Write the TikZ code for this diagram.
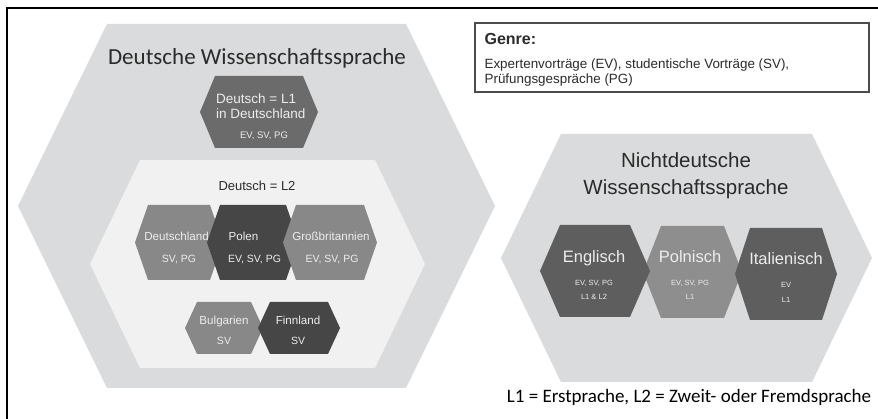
\documentclass[tikz,border=0pt]{standalone}
\usepackage{fontspec}
\setmainfont{Liberation Sans}
\newfontfamily\calib{Carlito}
\definecolor{bigfill}{HTML}{DADBDC}
\definecolor{innerfill}{HTML}{F1F1F1}
\definecolor{hexmid}{HTML}{6B6B6B}
\definecolor{hexlight}{HTML}{888888}
\definecolor{hexdark}{HTML}{464646}
\definecolor{hexeng}{HTML}{5E5E5E}
\definecolor{hexpol}{HTML}{8E8E8E}
\definecolor{txtdark}{HTML}{2B2B2B}
\definecolor{hextxt}{HTML}{EDEDED}
% cx, cy, half width, half height, inset, colour
\newcommand{\hexfill}[6]{%
  \fill[#6] ({#1-#3},{#2}) -- ({#1-#3+#5},{#2-#4}) -- ({#1+#3-#5},{#2-#4}) -- ({#1+#3},{#2})
    -- ({#1+#3-#5},{#2+#4}) -- ({#1-#3+#5},{#2+#4}) -- cycle;}
\tikzset{
  lbl/.style={inner sep=0pt, anchor=mid, text=hextxt},
  rowname/.style={lbl, font=\fontsize{11.6}{13}\selectfont},
  rowgen/.style={lbl, font=\fontsize{10.5}{12}\selectfont},
  langname/.style={lbl, font=\fontsize{16.5}{18}\selectfont},
  langgen/.style={lbl, font=\fontsize{7.5}{9}\selectfont},
  frameline/.style={line width=1.3pt, black}
}
\begin{document}
\begin{tikzpicture}[x=1pt,y=-1pt]
\useasboundingbox (0,0) rectangle (878,419);
\fill[white] (0,0) rectangle (878,419);
% frame
\draw[frameline] (7,419) -- (7,8) -- (878,8);

% ---- shapes ----
\hexfill{256.5}{206}{238.5}{182}{89}{bigfill}
\hexfill{259}{112}{59}{36}{15}{hexmid}
\hexfill{257.5}{264}{167.5}{104}{50}{innerfill}
\hexfill{179}{242.5}{44}{37.5}{13}{hexlight}
\hexfill{253}{242.5}{46}{37.5}{13}{hexdark}
\hexfill{330}{242.5}{47}{37.5}{13}{hexlight}
\hexfill{224}{328}{39}{26}{12}{hexlight}
\hexfill{299}{328}{41}{26}{12}{hexdark}
\hexfill{686.5}{258}{185.5}{124}{60}{bigfill}
\hexfill{692.5}{272}{49.5}{46}{18}{hexpol}
\hexfill{595}{271}{55}{46}{20}{hexeng}
\hexfill{786}{274}{51}{46}{15}{hexeng}

% ---- texts ----
\node[inner sep=0pt, anchor=mid, text=txtdark, font=\calib\fontsize{23}{26}\selectfont] (titleL) at (257,62) {Deutsche Wissenschaftssprache};

\node[lbl, anchor=west, font=\fontsize{13.5}{15}\selectfont] (l1a) at (216,99) {Deutsch = L1};
\node[lbl, anchor=west, font=\fontsize{13.5}{15}\selectfont] (l1b) at (216,114) {in Deutschland};
\node[lbl, font=\fontsize{9.5}{11}\selectfont] (l1c) at (264,136) {EV, SV, PG};

\node[inner sep=0pt, anchor=mid, text=txtdark, font=\fontsize{13}{15}\selectfont] (l2) at (257,188) {Deutsch = L2};

\node[rowname] (de1) at (176.5,238) {Deutschland};
\node[rowgen] (de2) at (179,260) {SV, PG};
\node[rowname] (pl1) at (243.5,238) {Polen};
\node[rowgen] (pl2) at (254.5,260) {EV, SV, PG};
\node[rowname] (gb1) at (331,238) {Großbritannien};
\node[rowgen] (gb2) at (332,260) {EV, SV, PG};

\node[rowname] (bg1) at (224,322) {Bulgarien};
\node[rowgen] (bg2) at (224,342) {SV};
\node[rowname] (fi1) at (298,322) {Finnland};
\node[rowgen] (fi2) at (298,342) {SV};

\node[inner sep=0pt, anchor=mid, text=txtdark, font=\fontsize{20.5}{24}\selectfont] (titleR1) at (686,165) {Nichtdeutsche};
\node[inner sep=0pt, anchor=mid, text=txtdark, font=\fontsize{20.5}{24}\selectfont] (titleR2) at (686,192) {Wissenschaftssprache};

\node[langname] (en1) at (594,260) {Englisch};
\node[langgen] (en2) at (594,283) {EV, SV, PG};
\node[langgen] (en3) at (594,297) {L1 \& L2};
\node[langname] (po1) at (690,260) {Polnisch};
\node[langgen] (po2) at (690,283) {EV, SV, PG};
\node[langgen] (po3) at (690,297) {L1};
\node[langname] (it1) at (786,262) {Italienisch};
\node[langgen] (it2) at (786,285) {EV};
\node[langgen] (it3) at (786,300) {L1};

% legend
\node[inner sep=0pt, anchor=mid, text=black, font=\calib\fontsize{19}{21}\selectfont] (legend) at (689,400) {L1 = Erstprache, L2 = Zweit- oder Fremdsprache};

% genre box
\node[draw=black!70, line width=1.2pt, minimum width=394pt, minimum height=69pt, inner sep=0pt] (genre) at (672,57.5) {};
\node[inner sep=0pt, anchor=west, text=txtdark, font=\bfseries\fontsize{16}{18}\selectfont] (genreT) at ([xshift=10pt]genre.west |- 0,39) {Genre:};
\node[inner sep=0pt, anchor=west, text=txtdark, font=\fontsize{13.4}{15}\selectfont] (genre1) at ([xshift=10pt]genre.west |- 0,65) {Expertenvorträge (EV), studentische Vorträge (SV),};
\node[inner sep=0pt, anchor=west, text=txtdark, font=\fontsize{13.4}{15}\selectfont] (genre2) at ([xshift=10pt]genre.west |- 0,80) {Prüfungsgespräche (PG)};
\end{tikzpicture}
\end{document}
